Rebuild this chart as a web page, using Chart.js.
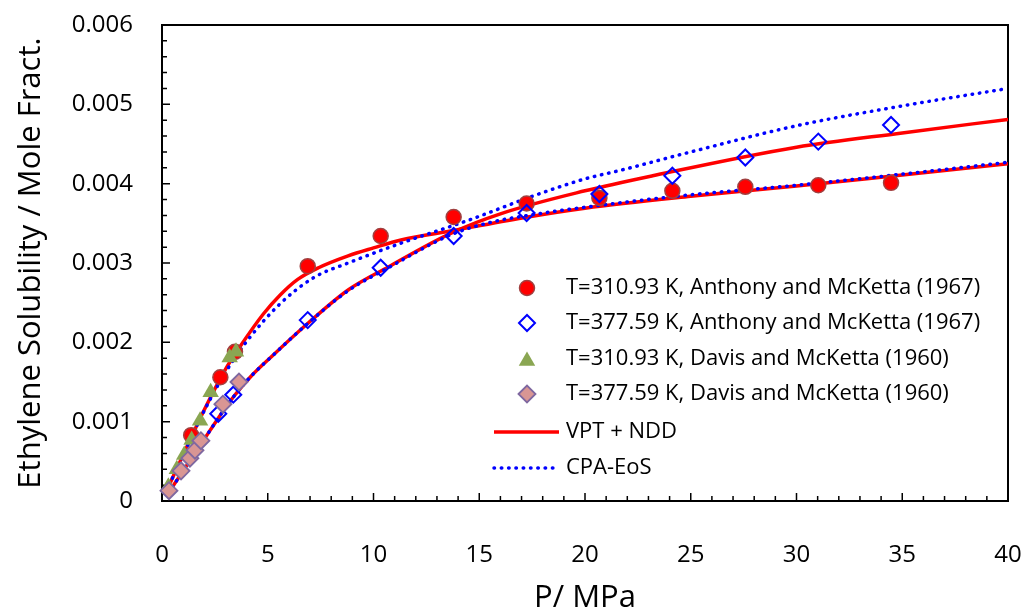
<!DOCTYPE html>
<html>
<head>
<meta charset="utf-8">
<script src="https://cdn.jsdelivr.net/npm/chart.js@4.4.1/dist/chart.umd.min.js"></script>
<style>
  html, body { margin: 0; padding: 0; background: #fff; }
</style>
</head>
<body>
<canvas id="chart" width="1027" height="611"></canvas>
<script>
// Experimental data: pressure (MPa) and ethylene mole fraction in water
const anthony311P = [1.38, 2.76, 3.45, 6.89, 10.34, 13.79, 17.24, 20.68, 24.13, 27.58, 31.03, 34.47];
const anthony311X = [0.00083, 0.00156, 0.00188, 0.00296, 0.00334, 0.00358, 0.00375, 0.00382, 0.00391, 0.00396, 0.00398, 0.00401];

const anthony378P = [2.66, 3.37, 6.89, 10.34, 13.79, 17.24, 20.68, 24.13, 27.58, 31.03, 34.47];
const anthony378X = [0.0011, 0.00134, 0.00228, 0.00294, 0.00334, 0.00363, 0.00387, 0.0041, 0.00433, 0.00453, 0.00474];

const davis311P = [0.3, 0.7, 1.05, 1.4, 1.8, 2.3, 3.2, 3.5];
const davis311X = [0.00018, 0.0004, 0.00058, 0.00077, 0.00101, 0.00137, 0.00181, 0.00188];

const davis378P = [0.33, 0.9, 1.32, 1.56, 1.84, 2.88, 3.64];
const davis378X = [0.00013, 0.00038, 0.00054, 0.00064, 0.00076, 0.00122, 0.0015];

// Model curves
const vptP311 = [0.2, 1, 2, 3, 3.7, 4.8, 5.6, 6.4, 7.4, 8.8, 10, 11.3, 13.8, 17.3, 20, 25, 30, 35, 40];
const vptX311 = [0.00012, 0.00058, 0.00115, 0.00166, 0.00195, 0.00236, 0.0026, 0.00279, 0.00294, 0.00309, 0.00319, 0.00329, 0.00341, 0.00358, 0.00369, 0.00384, 0.00397, 0.00411, 0.00425];

const vptP378 = [0.3, 1, 2, 2.7, 3.4, 4.2, 5.3, 6.9, 8.8, 10.7, 13.7, 16, 20, 23.2, 30, 35, 40];
const vptX378 = [0.0001, 0.00038, 0.00078, 0.00106, 0.00132, 0.00157, 0.00185, 0.00224, 0.00266, 0.00295, 0.00338, 0.00362, 0.00391, 0.0041, 0.00446, 0.00464, 0.00481];

const cpaP311 = [0.2, 1, 2, 3, 4, 5.6, 7.2, 8.8, 11.3, 14.5, 17.6, 20, 21.7, 25, 30, 35, 40];
const cpaX311 = [0.00012, 0.00058, 0.00114, 0.00162, 0.00201, 0.00249, 0.00282, 0.003, 0.00325, 0.00354, 0.00385, 0.00406, 0.00417, 0.0044, 0.00473, 0.00498, 0.0052];

const cpaP378 = [0.3, 1, 2, 2.7, 3.4, 4.2, 5.3, 6.9, 8.8, 10.7, 13.7, 15.5, 17.3, 21.7, 25, 30, 35, 40];
const cpaX378 = [0.0001, 0.00038, 0.00078, 0.00106, 0.00132, 0.00157, 0.00185, 0.00224, 0.00265, 0.00294, 0.00336, 0.00351, 0.0036, 0.00376, 0.00386, 0.00398, 0.00412, 0.00427];

const xTicks = { min: 0, max: 40, major: 5, minor: 1 };
const yTicks = { min: 0, max: 0.006, major: 0.001, minor: 0.0002 };

const pts = (px, py) => px.map((p, i) => ({ x: p, y: py[i] }));

const FONT = "'Open Sans', sans-serif";
Chart.defaults.font.family = FONT;
Chart.defaults.color = '#000';

const curve = (label, px, py, dotted) => ({
  type: 'line', label, data: pts(px, py), showLine: true,
  borderColor: dotted ? '#0000ff' : '#ff0000',
  borderWidth: 3.5,
  borderDash: dotted ? [0.5, 6.8] : [],
  borderCapStyle: dotted ? 'round' : 'butt',
  pointRadius: 0, fill: false,
  cubicInterpolationMode: 'monotone'
});

// index 0 is painted last, so markers come first
const datasets = [
  { label: 'T=377.59 K, Davis and McKetta (1960)', data: pts(davis378P, davis378X),
    pointStyle: 'rectRot', pointRadius: 8.5, backgroundColor: '#d99694', borderColor: '#7f68a0', borderWidth: 1.8, clip: false },
  { label: 'T=310.93 K, Davis and McKetta (1960)', data: pts(davis311P, davis311X),
    pointStyle: 'triangle', pointRadius: 9.5, backgroundColor: '#8aa652', borderColor: '#8aa652', borderWidth: 0, clip: false },
  { label: 'T=377.59 K, Anthony and McKetta (1967)', data: pts(anthony378P, anthony378X),
    pointStyle: 'rectRot', pointRadius: 8, backgroundColor: 'rgba(0,0,0,0)', borderColor: '#0000ff', borderWidth: 2, clip: false },
  { label: 'T=310.93 K, Anthony and McKetta (1967)', data: pts(anthony311P, anthony311X),
    pointStyle: 'circle', pointRadius: 7.5, backgroundColor: '#ff0000', borderColor: '#a04040', borderWidth: 1.5, clip: false },
  curve('CPA-EoS', cpaP311, cpaX311, true),
  curve('CPA-EoS', cpaP378, cpaX378, true),
  curve('VPT + NDD', vptP311, vptX311, false),
  curve('VPT + NDD', vptP378, vptX378, false)
];

// inward tick marks and the box around the plot
const frameTicks = {
  id: 'frameTicks',
  beforeDatasetsDraw(chart) {
    const { ctx, chartArea: a, scales: { x, y } } = chart;
    ctx.save();
    ctx.strokeStyle = '#000';
    ctx.lineWidth = 1.5;
    ctx.beginPath();
    const nx = Math.round((xTicks.max - xTicks.min) / xTicks.minor);
    for (let i = 0; i <= nx; i++) {
      const px = x.getPixelForValue(xTicks.min + i * xTicks.minor);
      const len = i % Math.round(xTicks.major / xTicks.minor) === 0 ? 8 : 5;
      ctx.moveTo(px, a.bottom);
      ctx.lineTo(px, a.bottom - len);
    }
    const ny = Math.round((yTicks.max - yTicks.min) / yTicks.minor);
    for (let i = 0; i <= ny; i++) {
      const py = y.getPixelForValue(yTicks.min + i * yTicks.minor);
      const len = i % Math.round(yTicks.major / yTicks.minor) === 0 ? 8 : 5;
      ctx.moveTo(a.left, py);
      ctx.lineTo(a.left + len, py);
    }
    ctx.stroke();
    ctx.lineWidth = 2;
    ctx.strokeRect(a.left, a.top, a.right - a.left, a.bottom - a.top);
    ctx.restore();
  }
};

// legend sitting inside the plot
const insideLegend = {
  id: 'insideLegend',
  afterDatasetsDraw(chart) {
    const { ctx } = chart;
    const ds = chart.data.datasets;
    const rows = [
      { i: 3, y: 288 }, { i: 2, y: 323 }, { i: 1, y: 359 }, { i: 0, y: 394 },
      { i: 6, y: 432, line: true }, { i: 4, y: 468, line: true }
    ];
    const symX = 527, textX = 566;
    ctx.save();
    rows.forEach(r => {
      const d = ds[r.i];
      if (r.line) {
        ctx.strokeStyle = d.borderColor;
        ctx.lineWidth = d.borderWidth;
        ctx.lineCap = d.borderCapStyle;
        ctx.setLineDash(d.borderDash);
        ctx.beginPath();
        ctx.moveTo(494, r.y);
        ctx.lineTo(d.borderDash.length ? 553 : 559, r.y);
        ctx.stroke();
        ctx.setLineDash([]);
        ctx.lineCap = 'butt';
      } else {
        ctx.fillStyle = d.backgroundColor;
        ctx.strokeStyle = d.borderColor;
        ctx.lineWidth = d.borderWidth;
        Chart.helpers.drawPoint(ctx, {
          pointStyle: d.pointStyle, radius: d.pointRadius, rotation: 0, borderWidth: d.borderWidth
        }, symX, d.pointStyle === 'triangle' ? r.y + 2 : r.y);
      }
      ctx.fillStyle = '#000';
      ctx.font = '22px ' + FONT;
      ctx.textAlign = 'left';
      ctx.textBaseline = 'middle';
      ctx.fillText(d.label, textX, r.y);
    });
    ctx.restore();
  }
};

// keep the plot box fixed: no extra room for overhanging tick labels
const noOverhang = s => { s.paddingTop = 0; s.paddingBottom = 0; s.paddingLeft = 0; s.paddingRight = 0; };

new Chart(document.getElementById('chart'), {
  type: 'scatter',
  data: { datasets },
  options: {
    responsive: false,
    animation: false,
    layout: { padding: { top: 25, right: 19, left: 0, bottom: 0 } },
    plugins: { legend: { display: false }, tooltip: { enabled: false } },
    scales: {
      x: {
        type: 'linear', min: xTicks.min, max: xTicks.max,
        grid: { display: false, drawTicks: false },
        border: { display: false },
        ticks: { stepSize: xTicks.major, padding: 40, font: { size: 24 }, color: '#000' },
        title: { display: true, text: 'P/ MPa', font: { size: 31 }, color: '#000', padding: { top: 0, bottom: -6 } },
        afterFit(s) { s.height = 110; noOverhang(s); }
      },
      y: {
        type: 'linear', min: yTicks.min, max: yTicks.max,
        grid: { display: false, drawTicks: false },
        border: { display: false },
        ticks: {
          stepSize: yTicks.major, padding: 29, font: { size: 24 }, color: '#000',
          callback: v => (Math.abs(v) < 1e-12 ? '0' : v.toFixed(3))
        },
        title: { display: true, text: 'Ethylene Solubility / Mole Fract.', font: { size: 31 }, color: '#000', padding: { top: 13, bottom: 0 } },
        afterFit(s) { s.width = 162; noOverhang(s); }
      }
    }
  },
  plugins: [frameTicks, insideLegend]
});
</script>
</body>
</html>
